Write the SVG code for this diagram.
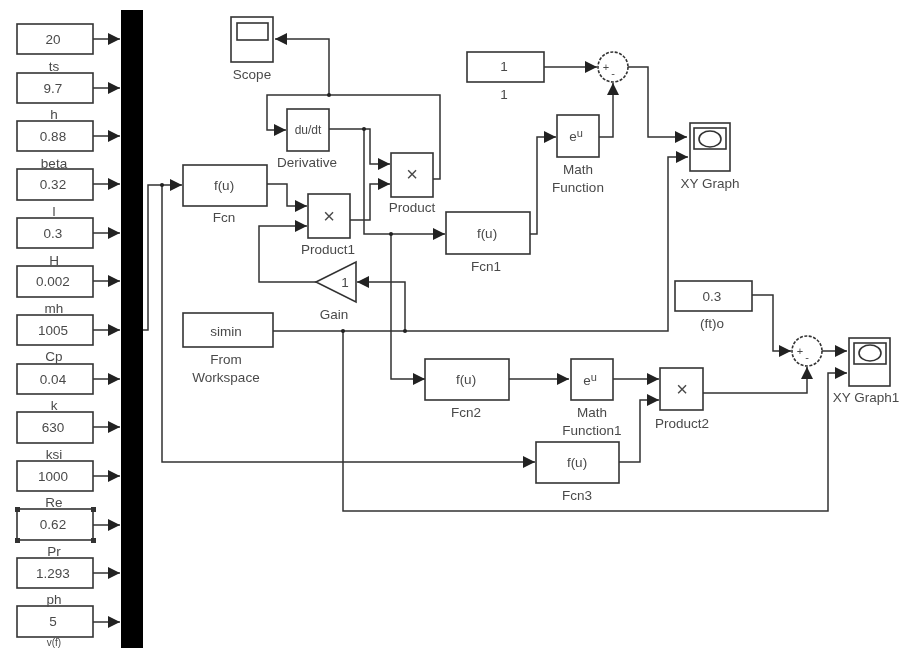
<svg xmlns="http://www.w3.org/2000/svg" width="901" height="648" viewBox="0 0 901 648">
<style>
text{font-family:"Liberation Sans",Arial,sans-serif;font-size:13.5px;fill:#4a4a4a;text-anchor:middle}
.b{fill:#fff;stroke:#333;stroke-width:1.6}
.w{fill:none;stroke:#333;stroke-width:1.5;marker-end:url(#a)}
.j{fill:#222}
.x{font-size:20px}
.s{font-size:11px}
.v{font-size:12px}
</style>
<defs>
<marker id="a" markerUnits="userSpaceOnUse" markerWidth="13" markerHeight="12" refX="12" refY="6" orient="auto"><path d="M0 0L12 6L0 12Z" fill="#222"/></marker>
<filter id="soft" x="0" y="0" width="100%" height="100%"><feGaussianBlur stdDeviation="0.45"/></filter>
</defs>
<rect width="901" height="648" fill="#fff"/>
<g filter="url(#soft)">
<g id="connectors">
<path class="w" d="M93 39H120"/><path class="w" d="M93 88H120"/><path class="w" d="M93 136H120"/><path class="w" d="M93 184H120"/><path class="w" d="M93 233H120"/><path class="w" d="M93 281H120"/><path class="w" d="M93 330H120"/><path class="w" d="M93 379H120"/><path class="w" d="M93 427H120"/><path class="w" d="M93 476H120"/><path class="w" d="M93 525H120"/><path class="w" d="M93 573H120"/><path class="w" d="M93 622H120"/>
<path class="w" d="M143 330H148V185H182"/>
<path class="w" d="M162 185V462H535"/>
<path class="w" d="M329 95V39H275"/>
<path class="w" d="M433 179H440V95H267V130H286"/>
<path class="w" d="M329 129H370V164H390"/>
<path class="w" d="M364 129V234H445"/>
<path class="w" d="M391 234V379H425"/>
<path class="w" d="M267 184H287V206H307"/>
<path class="w" d="M316 282H259V226H307"/>
<path class="w" d="M350 220H370V184H390"/>
<path class="w" d="M405 331V282H357"/>
<path class="w" d="M273 331H668V157H688"/>
<path class="w" d="M343 331V511H828V373H847"/>
<path class="w" d="M530 234H537V137H556"/>
<path class="w" d="M599 137H613V83"/>
<path class="w" d="M544 67H597"/>
<path class="w" d="M628 67H648V137H687"/>
<path class="w" d="M752 295H773V351H791"/>
<path class="w" d="M822 351H847"/>
<path class="w" d="M703 393H807V367"/>
<path class="w" d="M509 379H569"/>
<path class="w" d="M613 379H659"/>
<path class="w" d="M619 462H640V400H659"/>
<circle class="j" cx="162" cy="185" r="2"/><circle class="j" cx="329" cy="95" r="2"/><circle class="j" cx="364" cy="129" r="2"/><circle class="j" cx="391" cy="234" r="2"/><circle class="j" cx="405" cy="331" r="2"/><circle class="j" cx="343" cy="331" r="2"/>
</g>
<g id="ts"><rect class="b" x="17" y="24" width="76" height="30"/><text x="53" y="44">20</text></g>
<g id="h"><rect class="b" x="17" y="73" width="76" height="30"/><text x="53" y="93">9.7</text></g>
<g id="beta"><rect class="b" x="17" y="121" width="76" height="30"/><text x="53" y="141">0.88</text></g>
<g id="l"><rect class="b" x="17" y="169" width="76" height="31"/><text x="53" y="189">0.32</text></g>
<g id="H"><rect class="b" x="17" y="218" width="76" height="30"/><text x="53" y="238">0.3</text></g>
<g id="mh"><rect class="b" x="17" y="266" width="76" height="31"/><text x="53" y="286">0.002</text></g>
<g id="Cp"><rect class="b" x="17" y="315" width="76" height="30"/><text x="53" y="335">1005</text></g>
<g id="k"><rect class="b" x="17" y="364" width="76" height="30"/><text x="53" y="384">0.04</text></g>
<g id="ksi"><rect class="b" x="17" y="412" width="76" height="31"/><text x="53" y="432">630</text></g>
<g id="Re"><rect class="b" x="17" y="461" width="76" height="30"/><text x="53" y="481">1000</text></g>
<g id="Pr"><rect class="b" x="17" y="509" width="76" height="31"/><text x="53" y="529">0.62</text>
<g fill="#333"><rect x="15" y="507" width="5" height="5"/><rect x="91" y="507" width="5" height="5"/><rect x="15" y="538" width="5" height="5"/><rect x="91" y="538" width="5" height="5"/></g></g>
<g id="ph"><rect class="b" x="17" y="558" width="76" height="30"/><text x="53" y="578">1.293</text></g>
<g id="vfb"><rect class="b" x="17" y="606" width="76" height="31"/><text x="53" y="626">5</text></g>
<g id="constant-labels">
<text x="54" y="71">ts</text><text x="54" y="119">h</text><text x="54" y="168">beta</text><text x="54" y="216">l</text><text x="54" y="265">H</text><text x="54" y="313">mh</text><text x="54" y="361">Cp</text><text x="54" y="410">k</text><text x="54" y="459">ksi</text><text x="54" y="507">Re</text><text x="54" y="556">Pr</text><text x="54" y="604">ph</text><text x="54" y="646" style="font-size:10px">v(f)</text>
</g>
<g id="bus"><rect x="121" y="10" width="22" height="638" fill="#000"/></g>
<g id="Fcn"><rect class="b" x="183" y="165" width="84" height="41"/><text x="224" y="190">f(u)</text><text x="224" y="222">Fcn</text></g>
<g id="Scope"><rect class="b" x="231" y="17" width="42" height="45"/><rect class="b" x="237" y="23" width="31" height="17"/><text x="252" y="79">Scope</text></g>
<g id="Derivative"><rect class="b" x="287" y="109" width="42" height="42"/><text x="308" y="134" class="v">du/dt</text><text x="307" y="167">Derivative</text></g>
<g id="Product"><rect class="b" x="391" y="153" width="42" height="44"/><text x="412" y="181" class="x">×</text><text x="412" y="212">Product</text></g>
<g id="Product1"><rect class="b" x="308" y="194" width="42" height="44"/><text x="329" y="223" class="x">×</text><text x="328" y="254">Product1</text></g>
<g id="Gain"><path class="b" d="M316 282L356 262V302Z"/><text x="345" y="287">1</text><text x="334" y="319">Gain</text></g>
<g id="FromWorkspace"><rect class="b" x="183" y="313" width="90" height="34"/><text x="226" y="336">simin</text><text x="226" y="364">From</text><text x="226" y="382">Workspace</text></g>
<g id="Fcn1"><rect class="b" x="446" y="212" width="84" height="42"/><text x="487" y="238">f(u)</text><text x="486" y="271">Fcn1</text></g>
<g id="MathFunction"><rect class="b" x="557" y="115" width="42" height="42"/><text x="576" y="141">e<tspan dy="-4" class="s">u</tspan></text><text x="578" y="174">Math</text><text x="578" y="192">Function</text></g>
<g id="Constant1"><rect class="b" x="467" y="52" width="77" height="30"/><text x="504" y="71">1</text><text x="504" y="99">1</text></g>
<g id="Sum"><circle class="b" cx="613" cy="67" r="15" stroke-dasharray="3 1.5"/><text x="606" y="71" class="s">+</text><text x="613" y="77" class="s">-</text></g>
<g id="XYGraph"><rect class="b" x="690" y="123" width="40" height="48" stroke-width="2.2"/><rect class="b" x="694" y="128" width="32" height="21"/><ellipse class="b" cx="710" cy="139" rx="11" ry="8"/><text x="710" y="188">XY Graph</text></g>
<g id="ft0"><rect class="b" x="675" y="281" width="77" height="30"/><text x="712" y="301">0.3</text><text x="712" y="328">(ft)o</text></g>
<g id="Sum1"><circle class="b" cx="807" cy="351" r="15" stroke-dasharray="3 1.5"/><text x="800" y="355" class="s">+</text><text x="807" y="361" class="s">-</text></g>
<g id="XYGraph1"><rect class="b" x="849" y="338" width="41" height="48" stroke-width="2.2"/><rect class="b" x="854" y="343" width="32" height="21"/><ellipse class="b" cx="870" cy="353" rx="11" ry="8"/><text x="866" y="402">XY Graph1</text></g>
<g id="Product2"><rect class="b" x="660" y="368" width="43" height="42"/><text x="682" y="396" class="x">×</text><text x="682" y="428">Product2</text></g>
<g id="Fcn2"><rect class="b" x="425" y="359" width="84" height="41"/><text x="466" y="384">f(u)</text><text x="466" y="417">Fcn2</text></g>
<g id="MathFunction1"><rect class="b" x="571" y="359" width="42" height="41"/><text x="590" y="385">e<tspan dy="-4" class="s">u</tspan></text><text x="592" y="417">Math</text><text x="592" y="435">Function1</text></g>
<g id="Fcn3"><rect class="b" x="536" y="442" width="83" height="41"/><text x="577" y="467">f(u)</text><text x="577" y="500">Fcn3</text></g>
</g>
</svg>
